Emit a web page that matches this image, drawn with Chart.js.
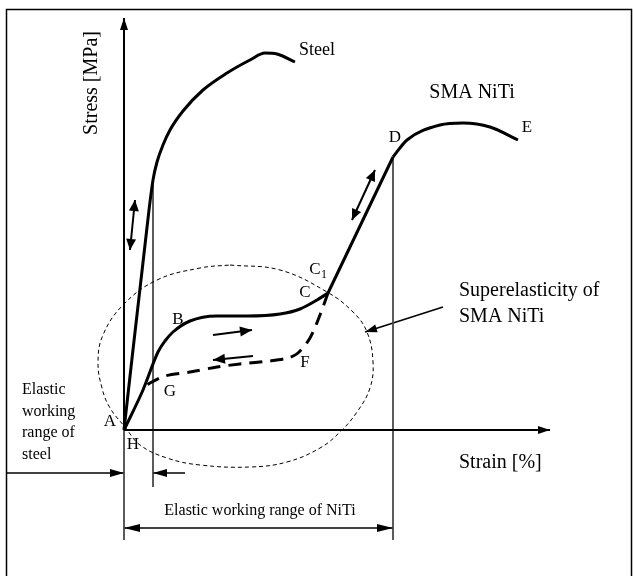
<!DOCTYPE html>
<html>
<head>
<meta charset="utf-8">
<script src="https://cdn.jsdelivr.net/npm/chart.js@4.4.1/dist/chart.umd.min.js"></script>
<style>
    body { margin: 0; background: #fff; }
    canvas { display: block; }
</style>
</head>
<body>
<canvas id="diagram" width="633" height="576"></canvas>
<script>
// curves: [strain, stress] in arbitrary schematic units
const steelCurve = [[0,0],[2.5,220],[2.9,250],[3.3,268],[3.9,285],[4.6,300],[5.9,319],[7.9,340],[10.3,357],[12.6,370],[14.1,377],[15.3,376],[17.1,368]];
const nitiLoading = [[0,0],[1.9,40],[3.4,78],[4.1,89],[4.9,98],[6.6,109],[9.3,114],[12.3,114],[15.6,116],[17.6,121],[19.3,130],[20.4,137]];
const nitiElastic = [[20.4,137],[26.9,273]];
const nitiPlastic = [[26.9,273],[28.3,290],[31.6,305],[33.9,307],[36.6,303],[39.4,290]];
const nitiUnloading = [[20.4,137],[19.6,115],[18.6,92],[17.4,77],[16.4,72],[14.6,69],[11.6,66],[9.3,63],[6.6,58],[4.1,54],[2.6,47],[1.9,42]];
const superRegion = [[10.6,165],[15.6,160],[20.3,138],[22.9,118],[24.3,98],[24.9,68],[24.6,42],[23.3,18],[21.6,-2],[19.6,-18],[16.3,-32],[12.6,-37],[7.6,-35],[4.3,-28],[1.6,-15],[0.1,3],[-1.4,22],[-2.2,42],[-2.6,68],[-2.1,95],[-0.1,125],[3.3,150],[7.6,162],[10.6,165]];

// axes and guide lines
const xAxisLine = [[0,0],[42.6,0]];
const yAxisLine = [[0,0],[0,412]];
const yAxisDrop = [[0,0],[0,-110]];
const steelLimit = [[2.9,250],[2.9,-57]];
const nitiLimit = [[26.9,273],[26.9,-110]];

// arrows: [from, to]
const steelArrow = [[1.1,230],[0.6,180]];
const nitiArrow = [[25.1,260],[22.8,210]];
const loadArrow = [[8.9,95],[12.8,100]];
const unloadArrow = [[12.9,74],[8.9,70]];
const calloutArrow = [[31.9,123],[24.1,98]];
const steelRangeLeft = [[-11.8,-43],[0,-43]];
const steelRangeRight = [[6.1,-43],[2.9,-43]];
const nitiRange = [[0,-98],[26.9,-98]];

// point letters
const pointNames = ['A','B','C','C1','D','E','F','G','H'];
const pointPos = [[-1.4,8],[5.4,110],[18.1,137],[19.1,160],[27.1,292],[40.3,302],[18.1,67],[4.6,38],[0.9,-15]];

function toXY(arr) {
    return arr.map(p => ({x: p[0], y: p[1]}));
}

function line(data, width, extra) {
    return Object.assign({
        data: toXY(data),
        showLine: true,
        borderColor: '#000',
        borderWidth: width,
        pointRadius: 0,
        fill: false,
        tension: 0
    }, extra || {});
}

const datasets = [
    line(steelCurve, 3, {cubicInterpolationMode: 'monotone'}),
    line(nitiLoading, 3, {cubicInterpolationMode: 'monotone'}),
    line(nitiElastic, 3),
    line(nitiPlastic, 3, {cubicInterpolationMode: 'monotone'}),
    line(nitiUnloading, 3, {tension: 0.3, borderDash: [13, 8]}),
    line(superRegion, 1, {tension: 0.4, borderDash: [4, 3]}),
    line(xAxisLine, 2, {arrow: 'end', head: [12, 4]}),
    line(yAxisLine, 2, {arrow: 'end', head: [12, 4]}),
    line(yAxisDrop, 1, {borderColor: '#444'}),
    line(steelLimit, 1, {borderColor: '#444'}),
    line(nitiLimit, 1, {borderColor: '#444'}),
    line(steelArrow, 2, {arrow: 'both', head: [11, 5]}),
    line(nitiArrow, 2, {arrow: 'both', head: [11, 5]}),
    line(loadArrow, 2, {arrow: 'end', head: [12, 5]}),
    line(unloadArrow, 2, {arrow: 'end', head: [12, 5]}),
    line(calloutArrow, 1.5, {arrow: 'end', head: [12, 4]}),
    line(steelRangeLeft, 1.5, {arrow: 'end', head: [14, 4]}),
    line(steelRangeRight, 1.5, {arrow: 'end', head: [14, 4]}),
    line(nitiRange, 1.5, {arrow: 'both', head: [16, 4]})
];

function drawHead(ctx, tip, from, size) {
    const a = Math.atan2(tip.y - from.y, tip.x - from.x);
    ctx.save();
    ctx.translate(tip.x, tip.y);
    ctx.rotate(a);
    ctx.beginPath();
    ctx.moveTo(0, 0);
    ctx.lineTo(-size[0], -size[1]);
    ctx.lineTo(-size[0], size[1]);
    ctx.closePath();
    ctx.fillStyle = '#000';
    ctx.fill();
    ctx.restore();
}

const decorations = {
    id: 'decorations',
    afterDatasetsDraw(chart) {
        const ctx = chart.ctx;
        const xs = chart.scales.x, ys = chart.scales.y;
        const px = p => ({x: xs.getPixelForValue(p[0]), y: ys.getPixelForValue(p[1])});

        // arrow heads
        chart.data.datasets.forEach((ds, i) => {
            if (!ds.arrow) return;
            const pts = chart.getDatasetMeta(i).data;
            const a = pts[0], b = pts[pts.length - 1];
            drawHead(ctx, b, a, ds.head);
            if (ds.arrow === 'both') drawHead(ctx, a, b, ds.head);
        });

        ctx.save();
        ctx.fillStyle = '#000';
        ctx.textBaseline = 'middle';

        // point letters
        ctx.font = '17px "Liberation Serif", serif';
        ctx.textAlign = 'center';
        pointNames.forEach((name, i) => {
            const p = px(pointPos[i]);
            if (name === 'C1') {
                ctx.fillText('C', p.x, p.y);
                ctx.font = '12px "Liberation Serif", serif';
                ctx.fillText('1', p.x + 9, p.y + 5);
                ctx.font = '17px "Liberation Serif", serif';
            } else {
                ctx.fillText(name, p.x, p.y);
            }
        });

        // titles and notes
        ctx.font = '18px "Liberation Serif", serif';
        let p = px([19.3, 380]);
        ctx.fillText('Steel', p.x, p.y);

        ctx.font = '20px "Liberation Serif", serif';
        p = px([34.8, 337]);
        ctx.fillText('SMA NiTi', p.x, p.y);

        ctx.textAlign = 'left';
        p = px([33.5, 139]);
        ctx.fillText('Superelasticity of', p.x, p.y);
        p = px([33.5, 113]);
        ctx.fillText('SMA NiTi', p.x, p.y);
        p = px([33.5, -33]);
        ctx.fillText('Strain [%]', p.x, p.y);

        p = px([-3.2, 347]);
        ctx.save();
        ctx.translate(p.x, p.y);
        ctx.rotate(-Math.PI / 2);
        ctx.textAlign = 'center';
        ctx.fillText('Stress [MPa]', 0, 0);
        ctx.restore();

        ctx.font = '16px "Liberation Serif", serif';
        ctx.textAlign = 'center';
        p = px([13.6, -81]);
        ctx.fillText('Elastic working range of NiTi', p.x, p.y);

        ctx.textAlign = 'left';
        const steelNote = ['Elastic', 'working', 'range of', 'steel'];
        const noteY = [40, 18, -3, -25];
        steelNote.forEach((t, i) => {
            const q = px([-10.2, noteY[i]]);
            ctx.fillText(t, q.x, q.y);
        });

        // frame around the figure
        ctx.strokeStyle = '#000';
        ctx.lineWidth = 1.5;
        ctx.strokeRect(6.5, 9.5, 625, 600);
        ctx.restore();
    }
};

new Chart(document.getElementById('diagram').getContext('2d'), {
    type: 'scatter',
    data: { datasets: datasets },
    options: {
        responsive: false,
        animation: false,
        devicePixelRatio: 1,
        layout: { padding: 0 },
        plugins: { legend: { display: false }, tooltip: { enabled: false } },
        scales: {
            x: { type: 'linear', display: false, min: -12.4, max: 50.9 },
            y: { type: 'linear', display: false, min: -146, max: 430 }
        }
    },
    plugins: [decorations]
});
</script>
</body>
</html>
